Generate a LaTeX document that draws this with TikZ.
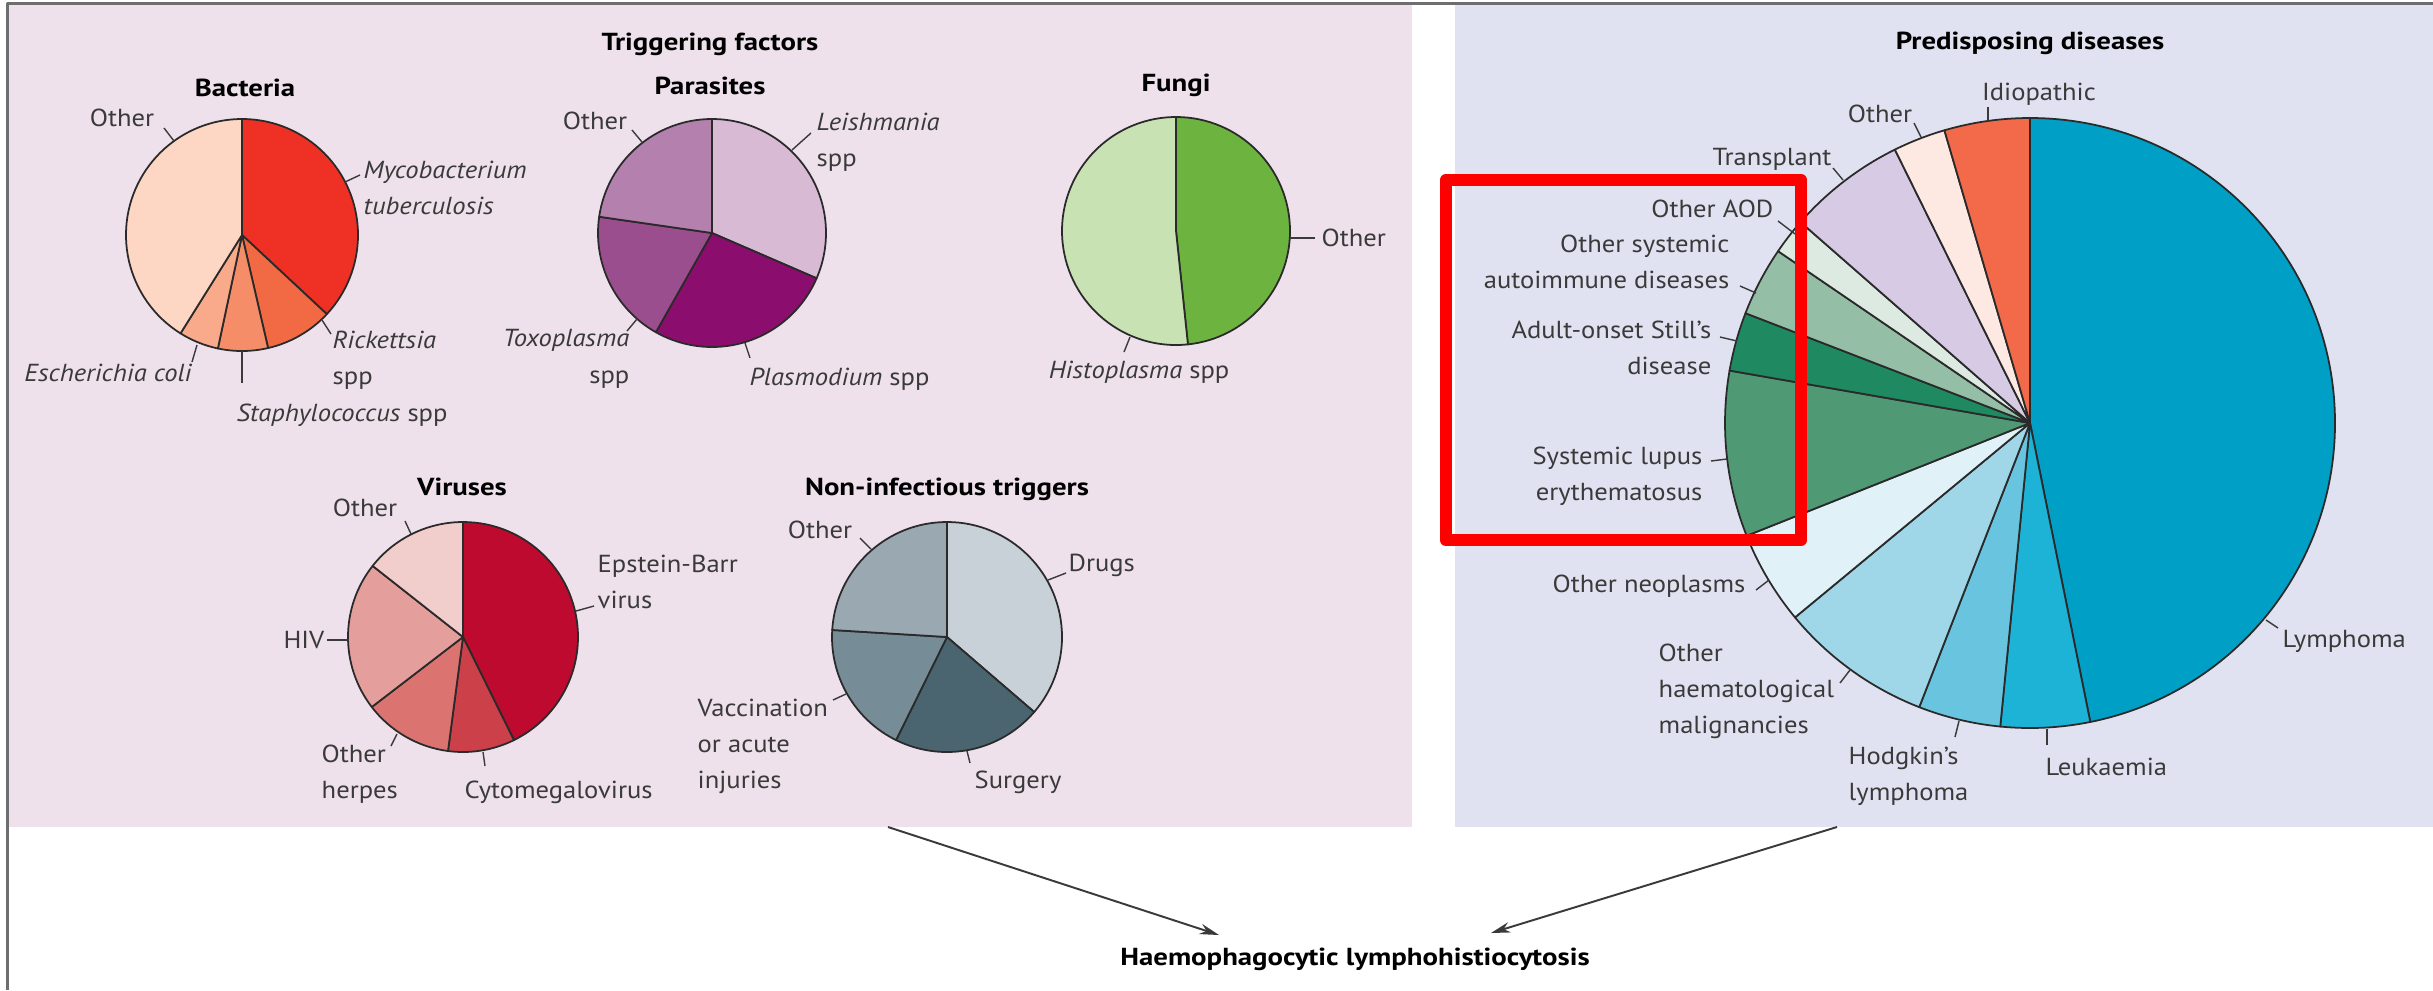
\documentclass[tikz,border=0pt]{standalone}
\usepackage{fontspec}
\setmainfont{PT Sans}[FakeStretch=1.08,BoldFeatures={FakeStretch=1.17}]
\usetikzlibrary{arrows.meta}

\definecolor{trigbg}{HTML}{EEE1EC}
\definecolor{predbg}{HTML}{E0E2F1}
\definecolor{framegray}{HTML}{6E6E6E}
\definecolor{txtgray}{HTML}{3A3A3A}
\definecolor{pieline}{HTML}{2A2A2A}
% bacteria
\definecolor{bacmyco}{HTML}{EE3124}
\definecolor{bacrick}{HTML}{F26A43}
\definecolor{bacstaph}{HTML}{F58E68}
\definecolor{bacecoli}{HTML}{F8AA8A}
\definecolor{bacother}{HTML}{FDD7C3}
% parasites
\definecolor{parleish}{HTML}{D8BAD4}
\definecolor{parplasmo}{HTML}{8B0E6F}
\definecolor{partoxo}{HTML}{9B4E8E}
\definecolor{parother}{HTML}{B480AE}
% fungi
\definecolor{funother}{HTML}{6CB33F}
\definecolor{funhisto}{HTML}{C9E2B3}
% viruses
\definecolor{virebv}{HTML}{BE0A2F}
\definecolor{vircmv}{HTML}{CC4049}
\definecolor{virherpes}{HTML}{DB7471}
\definecolor{virhiv}{HTML}{E49E9C}
\definecolor{virother}{HTML}{F1CDCB}
% non-infectious
\definecolor{nondrugs}{HTML}{C8D0D8}
\definecolor{nonsurg}{HTML}{4A6570}
\definecolor{nonvacc}{HTML}{768C96}
\definecolor{nonother}{HTML}{9AA8B1}
% predisposing
\definecolor{prelymph}{HTML}{009FC6}
\definecolor{preleuk}{HTML}{1DB3D7}
\definecolor{prehodg}{HTML}{69C5DF}
\definecolor{preohm}{HTML}{9FD6E8}
\definecolor{preneo}{HTML}{E1F1F8}
\definecolor{presle}{HTML}{4F9A74}
\definecolor{preaosd}{HTML}{1F8962}
\definecolor{preosad}{HTML}{94BEA5}
\definecolor{preaod}{HTML}{DDEAE2}
\definecolor{pretrans}{HTML}{D6CAE4}
\definecolor{preother}{HTML}{FDE9E1}
\definecolor{preidio}{HTML}{F26A4A}

\begin{document}
\begin{tikzpicture}[x=0.01cm,y=0.01cm,>={Stealth[length=5.5pt,width=3pt]},
                    line join=round]
      \tikzstyle{lab}=[inner sep=0pt,text=txtgray,font=\fontsize{7}{10.3}\selectfont]
      \tikzstyle{ttl}=[inner sep=0pt,text=black,font=\fontsize{7}{10.3}\selectfont\bfseries]
      \tikzstyle{slice}=[draw=pieline,line width=0.5pt]
      \tikzstyle{tick}=[draw=txtgray,line width=0.4pt]
      \tikzstyle{hilite}=[draw=red,line width=3.5pt]

      \useasboundingbox (0,0) rectangle (2433,-990);
      \fill[white] (0,0) rectangle (2433,-990);
      \fill[trigbg] (9,-5) rectangle (1412,-827);
      \fill[predbg] (1455,-5) rectangle (2433,-827);
      \draw[framegray,line width=0.6pt] (7.5,-990) -- (7.5,-3.5) -- (2433,-3.5);

      \coordinate (bac) at (242,-235);
      \coordinate (par) at (712,-233);
      \coordinate (fun) at (1176,-231);
      \coordinate (vir) at (463,-637);
      \coordinate (non) at (947,-637);
      \coordinate (pre) at (2030,-423);

      % pies
      \foreach \a/\b/\c in {90/-43/bacmyco,-43/-77/bacrick,-77/-102/bacstaph,
                            -102/-122/bacecoli,-122/-270/bacother}
        \filldraw[slice,fill=\c] (bac) -- ++(\a:116) arc[start angle=\a,end angle=\b,radius=116] -- cycle;
      \foreach \a/\b/\c in {90/-23.4/parleish,-23.4/-119.5/parplasmo,
                            -119.5/-188.2/partoxo,-188.2/-270/parother}
        \filldraw[slice,fill=\c] (par) -- ++(\a:114) arc[start angle=\a,end angle=\b,radius=114] -- cycle;
      \foreach \a/\b/\c in {90/-84/funother,-84/-270/funhisto}
        \filldraw[slice,fill=\c] (fun) -- ++(\a:114) arc[start angle=\a,end angle=\b,radius=114] -- cycle;
      \foreach \a/\b/\c in {90/-63.7/virebv,-63.7/-97.5/vircmv,-97.5/-142.5/virherpes,
                            -142.5/-218.2/virhiv,-218.2/-270/virother}
        \filldraw[slice,fill=\c] (vir) -- ++(\a:115) arc[start angle=\a,end angle=\b,radius=115] -- cycle;
      \foreach \a/\b/\c in {90/-40.7/nondrugs,-40.7/-116.3/nonsurg,
                            -116.3/-183.5/nonvacc,-183.5/-270/nonother}
        \filldraw[slice,fill=\c] (non) -- ++(\a:115) arc[start angle=\a,end angle=\b,radius=115] -- cycle;
      \foreach \a/\b/\c in {90/-78.6/prelymph,-78.6/-95.6/preleuk,-95.6/-111.3/prehodg,
                            -111.3/-140.4/preohm,-140.4/-158.3/preneo,-158.3/-189.9/presle,
                            -189.9/-201.1/preaosd,-201.1/-214.3/preosad,-214.3/-221.2/preaod,
                            -221.2/-243.7/pretrans,-243.7/-253.7/preother,-253.7/-270/preidio}
        \filldraw[slice,fill=\c] (pre) -- ++(\a:305) arc[start angle=\a,end angle=\b,radius=305] -- cycle;

      % triggering factors
      \node[ttl,anchor=base] (trig) at (710,-50) {Triggering factors};

      \node[ttl,anchor=base] (bact) at (245,-96) {Bacteria};
      \node[lab,anchor=base] (bacoth) at (122,-126) {Other};
      \node[lab,anchor=north west,align=left] (myco) at (363,-160) {\textit{Mycobacterium}\\\textit{tuberculosis}};
      \node[lab,anchor=north west,align=left] (rick) at (332,-330) {\textit{Rickettsia}\\spp};
      \node[lab,anchor=base west] (staph) at (236,-421) {\textit{Staphylococcus} spp};
      \node[lab,anchor=base east] (ecoli) at (193,-381) {\textit{Escherichia coli}};
      \draw[tick] (164,-128) -- (174,-141);
      \draw[tick] (345,-182) -- (360,-175);
      \draw[tick] (322,-320) -- (331,-334);
      \draw[tick] (242,-351) -- (242,-383);
      \draw[tick] (197,-345) -- (192,-362);

      \node[ttl,anchor=base] (para) at (710,-94) {Parasites};
      \node[lab,anchor=base] (paroth) at (595,-129) {Other};
      \node[lab,anchor=north west,align=left] (leish) at (816,-112) {\textit{Leishmania}\\spp};
      \node[lab,anchor=north east,align=right] (toxo) at (630,-329) {\textit{Toxoplasma}\\spp};
      \node[lab,anchor=base west] (plasmo) at (749,-385) {\textit{Plasmodium} spp};
      \draw[tick] (632,-130) -- (642,-142);
      \draw[tick] (792,-150) -- (811,-133);
      \draw[tick] (627,-331) -- (637,-319);
      \draw[tick] (745,-343) -- (750,-358);

      \node[ttl,anchor=base] (fungi) at (1176,-91) {Fungi};
      \node[lab,anchor=base west] (funoth) at (1321,-246) {Other};
      \node[lab,anchor=base] (histo) at (1139,-378) {\textit{Histoplasma} spp};
      \draw[tick] (1290,-238) -- (1315,-238);
      \draw[tick] (1130,-337) -- (1124,-352);

      \node[ttl,anchor=base] (virus) at (462,-495) {Viruses};
      \node[lab,anchor=base] (viroth) at (365,-516) {Other};
      \node[lab,anchor=north west,align=left] (ebv) at (597,-554) {Epstein-Barr\\virus};
      \node[lab,anchor=base east] (hiv) at (325,-648) {HIV};
      \node[lab,anchor=north west,align=left] (herpes) at (321,-744) {Other\\herpes};
      \node[lab,anchor=base west] (cmv) at (464,-798) {Cytomegalovirus};
      \draw[tick] (405,-521) -- (411,-534);
      \draw[tick] (576,-611) -- (594,-606);
      \draw[tick] (327,-640) -- (349,-640);
      \draw[tick] (397,-734) -- (391,-746);
      \draw[tick] (483,-752) -- (485,-766);

      \node[ttl,anchor=base] (noninf) at (947,-495) {Non-infectious triggers};
      \node[lab,anchor=base] (nonoth) at (820,-538) {Other};
      \node[lab,anchor=base west] (drugs) at (1068,-571) {Drugs};
      \node[lab,anchor=base west] (surg) at (974,-788) {Surgery};
      \node[lab,anchor=north west,align=left] (vacc) at (697,-698) {Vaccination\\or acute\\injuries};
      \draw[tick] (860,-538) -- (871,-549);
      \draw[tick] (1048,-580) -- (1066,-573);
      \draw[tick] (967,-751) -- (970,-763);
      \draw[tick] (833,-700) -- (846,-694);

      % predisposing diseases
      \node[ttl,anchor=base] (pred) at (2030,-49) {Predisposing diseases};
      \node[lab,anchor=base] (idio) at (2039,-100) {Idiopathic};
      \node[lab,anchor=base] (predoth) at (1880,-122) {Other};
      \node[lab,anchor=base] (trans) at (1772,-165) {Transplant};
      \node[lab,anchor=base east] (aod) at (1774,-217) {Other AOD};
      \node[lab,anchor=north east,align=right] (osad) at (1730,-234) {Other systemic\\autoimmune diseases};
      \node[lab,anchor=north east,align=right] (aosd) at (1712,-320) {Adult-onset Still's\\disease};
      \node[lab,anchor=north east,align=right] (sle) at (1703,-446) {Systemic lupus\\erythematosus};
      \node[lab,anchor=base east] (neo) at (1746,-592) {Other neoplasms};
      \node[lab,anchor=north west,align=left] (ohm) at (1658,-643) {Other\\haematological\\malignancies};
      \node[lab,anchor=north west,align=left] (hodg) at (1848,-746) {Hodgkin's\\lymphoma};
      \node[lab,anchor=base west] (leuk) at (2045,-775) {Leukaemia};
      \node[lab,anchor=base west] (lymph) at (2282,-647) {Lymphoma};
      \draw[tick] (1988,-107) -- (1988,-121);
      \draw[tick] (1914,-123) -- (1921,-137);
      \draw[tick] (1833,-168) -- (1843,-180);
      \draw[tick] (1778,-221) -- (1795,-234);
      \draw[tick] (1740,-286) -- (1756,-293);
      \draw[tick] (1720,-337) -- (1737,-341);
      \draw[tick] (1711,-461) -- (1727,-459);
      \draw[tick] (1756,-590) -- (1769,-580);
      \draw[tick] (1840,-683) -- (1850,-670);
      \draw[tick] (1955,-737) -- (1959,-721);
      \draw[tick] (2047,-729) -- (2047,-745);
      \draw[tick] (2266,-620) -- (2278,-628);

      \draw[hilite] (1446,-180) rectangle (1801,-540);

      % outcome
      \node[ttl,anchor=base] (hlh) at (1355,-965) {Haemophagocytic lymphohistiocytosis};
      \coordinate (trigout) at (888,-827);
      \coordinate (predout) at (1837,-827);
      \coordinate (hlhl) at (1219,-935);
      \coordinate (hlhr) at (1491,-933);
      \draw[->,draw=txtgray,line width=0.55pt] (trigout) -- (hlhl);
      \draw[->,draw=txtgray,line width=0.55pt] (predout) -- (hlhr);

\end{tikzpicture}
\end{document}
